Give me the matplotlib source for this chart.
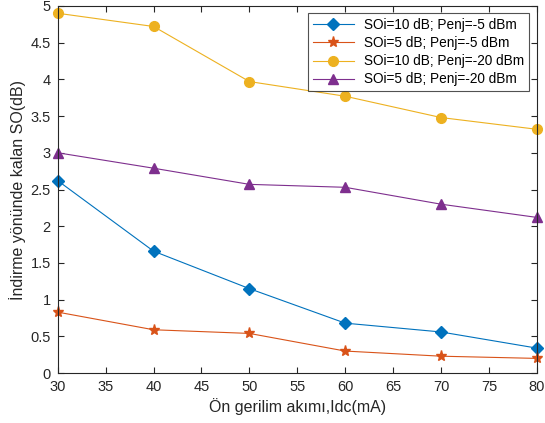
import matplotlib
matplotlib.use('Agg')
import matplotlib.pyplot as plt

plt.rcParams['font.family'] = ['Liberation Sans', 'DejaVu Sans']

idc = [30, 40, 50, 60, 70, 80]
so_10_5 = [2.62, 1.66, 1.15, 0.68, 0.56, 0.34]
so_5_5 = [0.83, 0.59, 0.54, 0.30, 0.23, 0.20]
so_10_20 = [4.90, 4.72, 3.97, 3.77, 3.48, 3.32]
so_5_20 = [3.00, 2.79, 2.57, 2.53, 2.30, 2.12]
labels = ['SOi=10 dB; Penj=-5 dBm', 'SOi=5 dB; Penj=-5 dBm',
          'SOi=10 dB; Penj=-20 dBm', 'SOi=5 dB; Penj=-20 dBm']

fig = plt.figure(figsize=(5.45, 4.23), dpi=100)
ax = fig.add_axes([0.106, 0.118, 0.879, 0.868])

ax.plot(idc, so_10_5, color='#0072BD', marker='D', markersize=6, linewidth=0.8, label=labels[0], clip_on=False)
ax.plot(idc, so_5_5, color='#D95319', marker='*', markersize=8, linewidth=0.8, label=labels[1], clip_on=False)
ax.plot(idc, so_10_20, color='#EDB120', marker='o', markersize=7, linewidth=0.8, label=labels[2], clip_on=False)
ax.plot(idc, so_5_20, color='#7E2F8E', marker='^', markersize=7, linewidth=0.8, label=labels[3], clip_on=False)

ax.set_xlim(30, 80)
ax.set_ylim(0, 5)
ax.set_xticks(range(30, 81, 5))
ax.set_yticks([0, 0.5, 1, 1.5, 2, 2.5, 3, 3.5, 4, 4.5, 5])
ax.set_yticklabels(['0', '0.5', '1', '1.5', '2', '2.5', '3', '3.5', '4', '4.5', '5'])
ax.tick_params(direction='in', top=True, right=True, labelsize=10.5, colors='#262626', length=4)
ax.tick_params(axis='x', pad=5)
ax.tick_params(axis='y', pad=5)
for s in ax.spines.values():
    s.set_color('#262626')
    s.set_linewidth(0.8)

ax.set_xlabel('Ön gerilim akımı,Idc(mA)', fontsize=11.5, color='#262626', labelpad=3)
ax.set_ylabel('İndirme yönünde kalan SO(dB)', fontsize=11.5, color='#262626', labelpad=3)

leg = ax.legend(loc='upper right', fontsize=9.8, fancybox=False, edgecolor='#262626',
                borderaxespad=0.55, handlelength=3, labelspacing=0.3, borderpad=0.35)
leg.get_frame().set_linewidth(0.8)

fig.savefig('out.png', dpi=100)
